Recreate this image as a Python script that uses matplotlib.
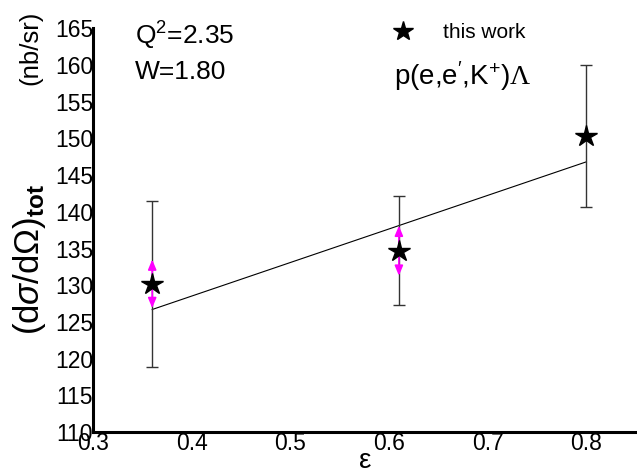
import matplotlib
matplotlib.use("Agg")
import matplotlib.pyplot as plt
from matplotlib.lines import Line2D

plt.rcParams['font.family'] = ['Liberation Sans', 'DejaVu Sans']
plt.rcParams['mathtext.fontset'] = 'custom'
plt.rcParams['mathtext.rm'] = 'Liberation Sans'
plt.rcParams['mathtext.it'] = 'Liberation Sans:italic'
plt.rcParams['mathtext.bf'] = 'Liberation Sans:bold'
plt.rcParams['mathtext.sf'] = 'Liberation Serif'

# Cross sections vs. virtual photon polarization
epsilon = [0.36, 0.61, 0.80]
sigma_tot = [130.2, 134.7, 150.3]
err_total = [11.3, 7.4, 9.7]
err_stat = [3.3, 3.4, 0.0]

# Linear (Rosenbluth) fit, evaluated at the end points
fit_eps = [0.36, 0.80]
fit_sigma = [126.7, 146.8]

xticks = [0.3, 0.4, 0.5, 0.6, 0.7, 0.8]
yticks = [110, 115, 120, 125, 130, 135, 140, 145, 150, 155, 160, 165]

fig = plt.figure(figsize=(6.37, 4.76), dpi=100)
ax = fig.add_axes([0.146, 0.092, 0.852, 0.849])

ax.plot(fit_eps, fit_sigma, color='black', lw=0.8, zorder=2)

ax.errorbar(epsilon, sigma_tot, yerr=err_total, fmt='none', ecolor='#333333',
            elinewidth=1.0, capsize=4.3, capthick=1.0, zorder=3)

for x, y, s in zip(epsilon, sigma_tot, err_stat):
    if s > 0:
        ax.annotate('', xy=(x, y + s), xytext=(x, y - s),
                    arrowprops=dict(arrowstyle='<|-|>,head_length=0.6,head_width=0.25',
                                    color='magenta', lw=1.2, shrinkA=0, shrinkB=0),
                    zorder=4)

ax.plot(epsilon, sigma_tot, linestyle='none', marker='*', markersize=16,
        color='black', zorder=5)

ax.set_xlim(0.3, 0.85)
ax.set_ylim(110, 165)
ax.set_xticks(xticks)
ax.set_xticklabels([f'{v:.1f}' for v in xticks])
ax.set_yticks(yticks)
ax.set_yticklabels([str(v) for v in yticks])
ax.tick_params(axis='both', length=0, pad=0, labelsize=16.5)

for side in ['top', 'right']:
    ax.spines[side].set_visible(False)
for side in ['left', 'bottom']:
    ax.spines[side].set_linewidth(2.2)
    ax.spines[side].set_color('black')

fig.text(0.212, 0.925, r'Q$^{2}$=2.35', fontsize=19, va='center', ha='left')
fig.text(0.212, 0.848, 'W=1.80', fontsize=19, va='center', ha='left')
fig.text(0.618, 0.84, "p(e,e$^{\\prime}$,K$^{+}$)$\\mathsf{\\Lambda}$", fontsize=20,
         va='center', ha='left')

star = Line2D([], [], linestyle='none', marker='*', markersize=15, color='black')
fig.legend(handles=[star], labels=['this work'], loc='center left',
           bbox_to_anchor=(0.597, 0.932), frameon=False, fontsize=15,
           handlelength=1.2, handletextpad=1.3, borderpad=0)

fig.text(0.047, 0.456, r'(d$\sigma$/d$\Omega$)$_{\mathbf{tot}}$', fontsize=25,
         rotation=90, va='center', ha='center')
fig.text(0.047, 0.9, '(nb/sr)', fontsize=18.5, rotation=90, va='center', ha='center')
fig.text(0.573, 0.032, 'ε', fontsize=20, va='center', ha='center')

fig.savefig('out.png', dpi=100)
